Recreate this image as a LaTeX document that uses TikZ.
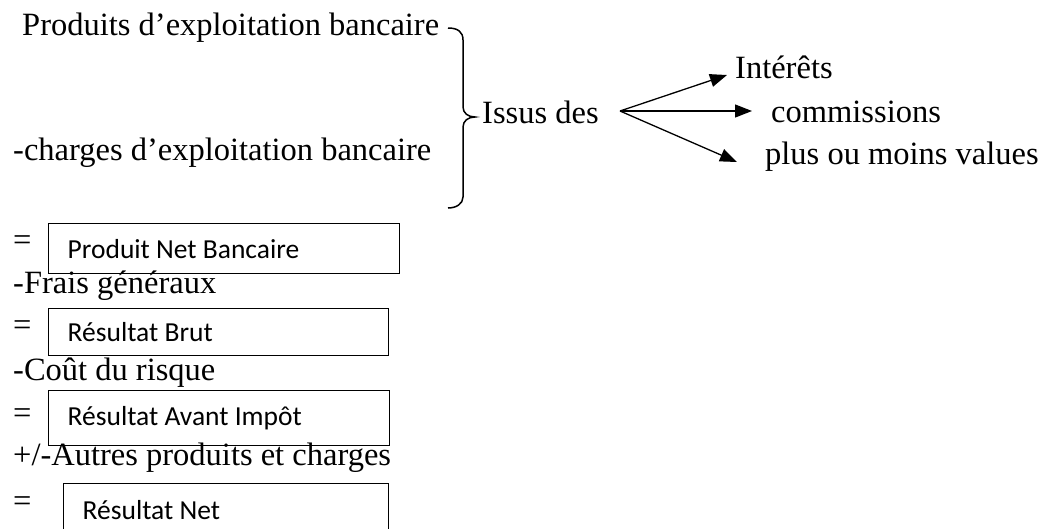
\documentclass[tikz,border=0pt]{standalone}
\usepackage{fontspec}
\setmainfont{Liberation Serif}
\newfontfamily\boxfont{Carlito}
\usetikzlibrary{arrows.meta}

\begin{document}
\begin{tikzpicture}[x=1pt,y=-1pt,
  line/.style={font=\fontsize{32.5}{39}\selectfont, anchor=base west, inner sep=0pt},
  resbox/.style={draw, line width=1.4pt, anchor=north west, inner xsep=19pt, inner ysep=0pt,
    align=flush left, font=\boxfont\fontsize{27.5}{32}\selectfont},
  fanarrow/.style={line width=1.3pt, -{Triangle[length=17pt,width=13pt]}},
  brace/.style={line width=1.5pt}]
  \useasboundingbox (0,0) rectangle (1041,528);
  \clip (0,0) rectangle (1041,528);

  % operating income and charges, gathered by a brace
  \node[line] (pe) at (22,35) {Produits d’exploitation bancaire};
  \node[line] (ce) at (13,160) {-charges d’exploitation bancaire};
  \draw[brace] (448,28) .. controls (458,28) and (463,32) .. (463,40) -- (463,107)
    .. controls (463,113) and (468,117) .. (475,117)
    .. controls (468,117) and (463,121) .. (463,127) -- (463,197)
    .. controls (463,204) and (456,208) .. (448,208);
  \node[line] (issus) at (482,123) {Issus des};

  % sources of the income
  \node[line] (int) at (735,78) {Intérêts};
  \node[line] (com) at (771,122) {commissions};
  \node[line] (pmv) at (765,164) {plus ou moins values};
  \coordinate (fan) at (620,111);
  \coordinate (tint) at (727,75);
  \coordinate (tcom) at (752,111);
  \coordinate (tpmv) at (737,162);
  \draw[fanarrow] (fan) -- (tint);
  \draw[fanarrow] (fan) -- (tcom);
  \draw[fanarrow] (fan) -- (tpmv);

  % intermediate results
  \node[line] (eq1) at (13,250) {=};
  \node[resbox, minimum width=351pt, text width=313pt, minimum height=50pt] (pnb) at (48,223) {Produit Net Bancaire};
  \node[line] (fg) at (13,293) {-Frais généraux};
  \node[line] (eq2) at (13,335) {=};
  \node[resbox, minimum width=340pt, text width=302pt, minimum height=47pt] (rb) at (48,308) {Résultat Brut};
  \node[line] (cr) at (13,380) {-Coût du risque};
  \node[line] (eq3) at (13,423) {=};
  \node[resbox, minimum width=341pt, text width=303pt, minimum height=55pt] (rai) at (48,390) {Résultat Avant Impôt};
  \node[line] (apc) at (13,465) {+/-Autres produits et charges};
  \node[line] (eq4) at (13,511) {=};
  \node[resbox, minimum width=325pt, text width=287pt, minimum height=52pt] (rn) at (63,483) {Résultat Net};
\end{tikzpicture}
\end{document}
